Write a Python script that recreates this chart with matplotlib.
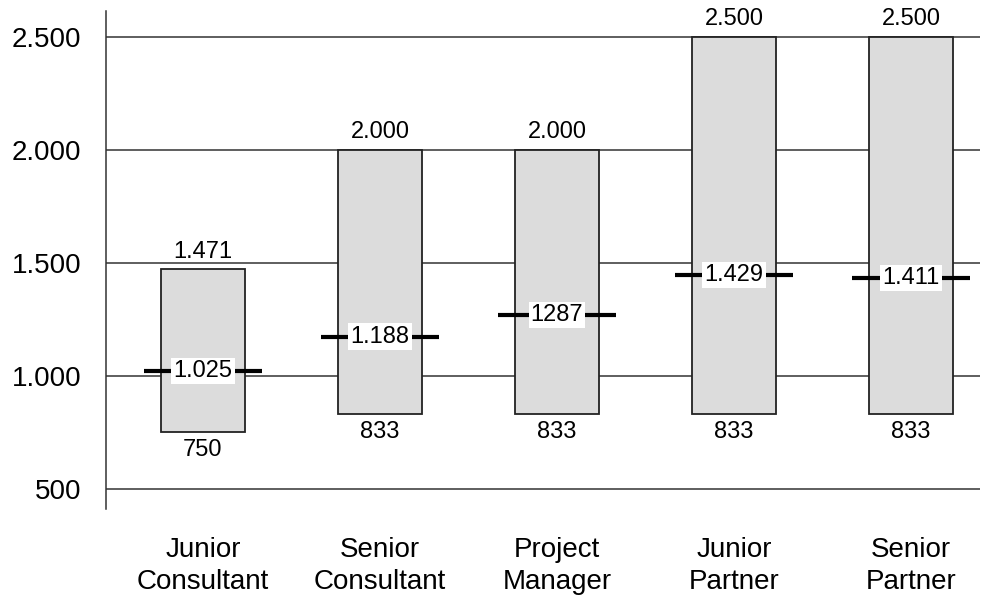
import matplotlib.pyplot as plt
import numpy as np

plt.rcParams['font.family'] = ['Liberation Sans', 'DejaVu Sans']

# salary bands per role
roles = ["Junior\nConsultant", "Senior\nConsultant", "Project\nManager",
         "Junior\nPartner", "Senior\nPartner"]
low = [750, 833, 833, 833, 833]
high = [1471, 2000, 2000, 2500, 2500]
mid = [1023, 1174, 1270, 1447, 1434]
low_labels = ["750", "833", "833", "833", "833"]
high_labels = ["1.471", "2.000", "2.000", "2.500", "2.500"]
mid_labels = ["1.025", "1.188", "1287", "1.429", "1.411"]
yticks = [500, 1000, 1500, 2000, 2500]
ytick_labels = ["500", "1.000", "1.500", "2.000", "2.500"]

fig = plt.figure(figsize=(9.97, 5.97), dpi=100)
ax = fig.add_axes([106/997, 1-509/597, (980-106)/997, (509-10.7)/597])

x = np.arange(len(roles))
heights = np.array(high) - np.array(low)
ax.bar(x, heights, bottom=low, width=0.47, color="#dcdcdc",
       edgecolor="#222222", linewidth=1.3, zorder=2)

for i in range(len(roles)):
    ax.plot([x[i]-0.335, x[i]+0.335], [mid[i], mid[i]], color="black",
            linewidth=3, solid_capstyle="butt", zorder=3)
    ax.text(x[i], mid[i], mid_labels[i], ha="center", va="center", fontsize=17,
            zorder=4, bbox=dict(facecolor="white", edgecolor="none", pad=1.5))
    ax.annotate(high_labels[i], (x[i], high[i]), xytext=(0, 5),
                textcoords="offset points", ha="center", va="bottom", fontsize=17)
    ax.annotate(low_labels[i], (x[i], low[i]), xytext=(0, -5),
                textcoords="offset points", ha="center", va="top", fontsize=17)

for y in yticks:
    ax.axhline(y, color="#333333", linewidth=1.1, zorder=1)

ax.set_xlim(-0.548, 4.39)
ax.set_ylim(411, 2616)
ax.set_xticks(x)
ax.set_xticklabels(roles, fontsize=20, linespacing=1.3)
ax.set_yticks(yticks)
ax.set_yticklabels(ytick_labels, fontsize=20)
ax.tick_params(length=0)
ax.tick_params(axis="y", pad=18)
ax.tick_params(axis="x", pad=20)
for s in ["top", "right", "bottom"]:
    ax.spines[s].set_visible(False)
ax.spines["left"].set_color("#333333")
ax.spines["left"].set_linewidth(1.1)

fig.savefig("out.png", dpi=100)
